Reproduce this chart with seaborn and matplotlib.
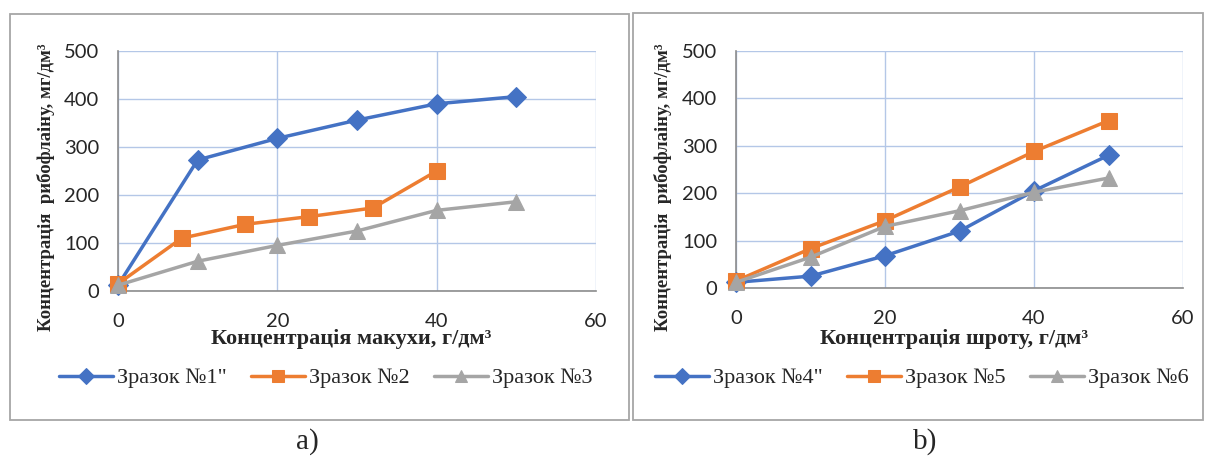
import matplotlib
matplotlib.use("Agg")
import matplotlib.pyplot as plt
from matplotlib.patches import Rectangle
import seaborn as sns
import pandas as pd

# ---- data ----
x_a = [0, 10, 20, 30, 40, 50]
x_a2 = [0, 8, 16, 24, 32, 40]
s1 = [12, 273, 318, 356, 390, 405]
s2 = [15, 110, 139, 155, 173, 250]
s3 = [12, 62, 95, 125, 168, 186]

x_b = [0, 10, 20, 30, 40, 50]
s4 = [12, 25, 68, 120, 205, 280]
s5 = [15, 83, 142, 213, 288, 353]
s6 = [12, 65, 130, 163, 202, 232]

names_a = ['Зразок №1"', 'Зразок №2', 'Зразок №3']
names_b = ['Зразок №4"', 'Зразок №5', 'Зразок №6']
xlabel_a = 'Концентрація макухи, г/дм³'
xlabel_b = 'Концентрація шроту, г/дм³'
ylabel = 'Концентрація  рибофлаіну, мг/дм³'
xticks = [0, 20, 40, 60]
yticks = [0, 100, 200, 300, 400, 500]

colors = ['#4472C4', '#ED7D31', '#A5A5A5']
markers = ['D', 's', '^']
msizes = [10, 12, 12]

sns.set_style("white")
plt.rcParams['font.family'] = ['Liberation Serif', 'DejaVu Serif']

W, H = 1205, 459
fig = plt.figure(figsize=(W / 100, H / 100), dpi=100)

def fx(px):
    return px / W

def fy(py):
    return 1 - py / H

# panel boxes
for (x0, y0, x1, y1) in [(10, 14, 629, 420), (633, 13, 1203, 420)]:
    fig.patches.append(Rectangle((fx(x0), fy(y1)), fx(x1) - fx(x0), fy(y0) - fy(y1),
                                 transform=fig.transFigure, fill=False,
                                 edgecolor='#a6a6a6', linewidth=1.3))

ax_a = fig.add_axes([fx(118), fy(291), fx(596) - fx(118), fy(51) - fy(291)])
ax_b = fig.add_axes([fx(736), fy(288), fx(1183) - fx(736), fy(51) - fy(288)])

def draw(ax, xs_list, ys_list, names):
    for xs, ys, name, c, m, ms in zip(xs_list, ys_list, names, colors, markers, msizes):
        df = pd.DataFrame({'x': xs, 'y': ys})
        sns.lineplot(data=df, x='x', y='y', ax=ax, color=c, marker=m,
                     markersize=ms, markeredgecolor=c, linewidth=2.5,
                     label=name, clip_on=False, zorder=3)
    ax.set_xlim(0, 60)
    ax.set_ylim(0, 500)
    ax.set_xticks(xticks)
    ax.set_yticks(yticks)
    ax.grid(True, color='#b4c7e7', linewidth=1)
    ax.set_axisbelow(True)
    for sp in ['top', 'right']:
        ax.spines[sp].set_visible(False)
    for sp in ['left', 'bottom']:
        ax.spines[sp].set_color('#8c8c8c')
        ax.spines[sp].set_linewidth(1.2)
    ax.tick_params(axis='both', direction='out', width=1.2,
                   color='#8c8c8c', labelsize=14.5)
    ax.tick_params(axis='x', length=4.5, pad=11)
    ax.tick_params(axis='y', length=5.5, pad=8)
    for lab in ax.get_xticklabels() + ax.get_yticklabels():
        lab.set_family(['Lato', 'DejaVu Sans'])
    ax.set_xlabel('')
    ax.set_ylabel('')
    ax.get_legend().remove()

draw(ax_a, [x_a, x_a2, x_a], [s1, s2, s3], names_a)
draw(ax_b, [x_b, x_b, x_b], [s4, s5, s6], names_b)

# axis titles
fig.text(fx(351), fy(339), xlabel_a, ha='center', va='center',
         fontsize=16, fontweight='bold')
fig.text(fx(954), fy(339), xlabel_b, ha='center', va='center',
         fontsize=16, fontweight='bold')
fig.text(fx(46), fy(187), ylabel, ha='center', va='center', rotation=90,
         fontsize=13.5, fontweight='bold')
fig.text(fx(663), fy(187), ylabel, ha='center', va='center', rotation=90,
         fontsize=13.5, fontweight='bold')

# legends
for ax, cx in [(ax_a, 326), (ax_b, 922)]:
    h, l = ax.get_legend_handles_labels()
    leg = fig.legend(h, l, loc='center', bbox_to_anchor=(fx(cx), fy(378)),
                     ncol=3, frameon=False, handlelength=2.4,
                     handletextpad=0.2, columnspacing=1.1,
                     prop={'family': 'Liberation Serif', 'size': 16})
    for lh in leg.get_lines():
        lh.set_markersize(8)

fig.text(fx(307), fy(442), 'a)', ha='center', va='center', fontsize=21)
fig.text(fx(925), fy(442), 'b)', ha='center', va='center', fontsize=21)

fig.savefig('out.png', dpi=100)
